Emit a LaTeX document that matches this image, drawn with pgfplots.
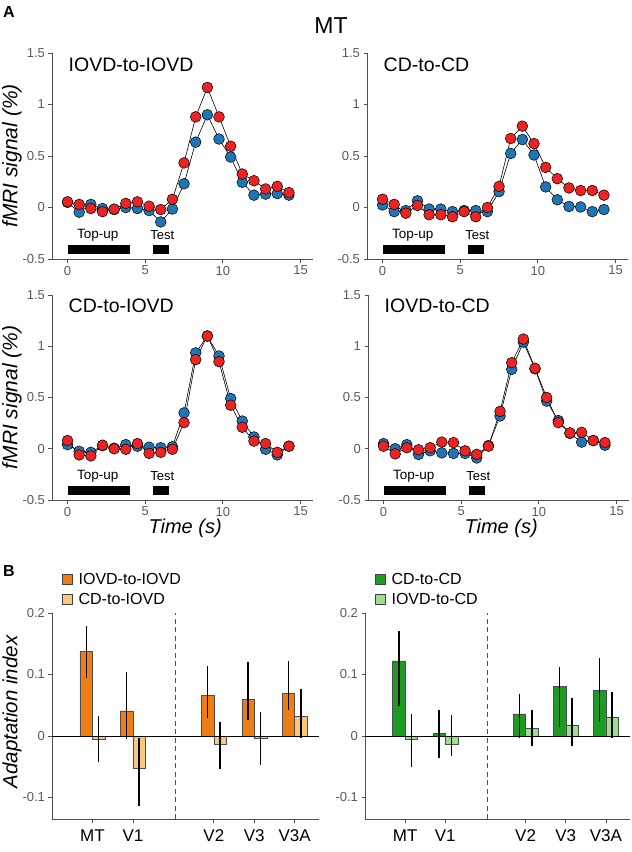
\documentclass[border=0pt]{standalone}
\usepackage{pgfplots}
\pgfplotsset{compat=1.18}
\usepackage{pgfplotstable}
\usepackage{fontspec}
\setmainfont{Liberation Sans}

\definecolor{bl}{RGB}{30,118,180}
\definecolor{rd}{RGB}{235,35,35}
\definecolor{orD}{RGB}{240,125,20}
\definecolor{orL}{RGB}{250,200,125}
\definecolor{grD}{RGB}{30,155,35}
\definecolor{grL}{RGB}{160,220,140}
\definecolor{axg}{RGB}{80,80,80}
\definecolor{tkg}{RGB}{90,90,90}

\pgfplotstableread{
t b r
0 0.05 0.055
0.75 -0.045 0.03
1.5 0.03 -0.01
2.25 -0.01 -0.04
3.0 -0.02 -0.015
3.75 0.0 0.04
4.5 -0.01 0.055
5.25 -0.03 0.013
6.0 -0.14 -0.02
6.75 -0.015 0.08
7.5 0.23 0.433
8.25 0.635 0.88
9.0 0.90 1.166
9.75 0.665 0.88
10.5 0.49 0.595
11.25 0.245 0.325
12.0 0.12 0.26
12.75 0.13 0.18
13.5 0.135 0.205
14.25 0.12 0.145
}\tabTL

\pgfplotstableread{
t b r
0 0.025 0.08
0.75 -0.04 0.03
1.5 -0.03 -0.055
2.25 0.065 0.02
3.0 -0.015 -0.07
3.75 -0.015 -0.07
4.5 -0.04 -0.09
5.25 -0.03 -0.04
6.0 -0.03 -0.09
6.75 -0.04 0.0
7.5 0.155 0.205
8.25 0.525 0.67
9.0 0.66 0.79
9.75 0.51 0.62
10.5 0.2 0.39
11.25 0.075 0.28
12.0 0.01 0.19
12.75 0.005 0.165
13.5 -0.04 0.165
14.25 -0.02 0.12
}\tabTR

\pgfplotstableread{
t b r
0 0.04 0.08
0.75 -0.025 -0.06
1.5 -0.035 -0.07
2.25 0.03 0.035
3.0 0.005 0.0
3.75 0.04 -0.005
4.5 0.025 0.05
5.25 0.015 -0.045
6.0 0.01 -0.035
6.75 0.02 -0.005
7.5 0.35 0.255
8.25 0.935 0.87
9.0 1.10 1.10
9.75 0.905 0.85
10.5 0.49 0.425
11.25 0.27 0.21
12.0 0.115 0.075
12.75 -0.005 0.05
13.5 -0.06 -0.035
14.25 0.025 0.025
}\tabBL

\pgfplotstableread{
t b r
0 0.05 0.025
0.75 0.0 -0.05
1.5 0.04 0.01
2.25 -0.055 -0.01
3.0 -0.02 0.01
3.75 -0.04 0.065
4.5 -0.045 0.06
5.25 -0.045 -0.02
6.0 -0.09 -0.055
6.75 0.03 0.025
7.5 0.32 0.365
8.25 0.775 0.84
9.0 1.04 1.07
9.75 0.78 0.785
10.5 0.465 0.5
11.25 0.275 0.255
12.0 0.15 0.155
12.75 0.065 0.16
13.5 0.08 0.08
14.25 0.035 0.06
}\tabBR

% bar data: x y ep em
\pgfplotstableread{
x y ep em
1 0.137 0.042 0.043
2 0.041 0.063 0.046
4 0.066 0.048 0.037
5 0.060 0.061 0.034
6 0.069 0.053 0.027
}\barOD
\pgfplotstableread{
x y ep em
1 -0.006 0.038 0.037
2 -0.053 0.049 0.061
4 -0.014 0.036 0.040
5 -0.004 0.043 0.043
6 0.032 0.045 0.035
}\barOL
\pgfplotstableread{
x y ep em
1 0.122 0.048 0.073
2 0.004 0.039 0.040
4 0.036 0.032 0.040
5 0.081 0.032 0.067
6 0.074 0.053 0.051
}\barGD
\pgfplotstableread{
x y ep em
1 -0.006 0.041 0.045
2 -0.013 0.047 0.019
4 0.013 0.030 0.029
5 0.018 0.043 0.034
6 0.031 0.040 0.034
}\barGL

\pgfplotsset{
  base/.style={
    scale only axis,
    axis lines*=left,
    axis line style={axg, line width=0.8pt},
    tick style={axg, line width=0.8pt},
    tick align=outside,
    major tick length=3.5pt,
    /pgf/number format/assume math mode=true,
    ticklabel style={font=\fontsize{13}{15}\selectfont, text=tkg},
    clip=false,
  },
  fmri/.style={
    base,
    width=261pt, height=206pt,
    xmin=-1, xmax=15.8, ymin=-0.5, ymax=1.5,
    xtick={0,5,10,15}, ytick={-0.5,0,0.5,1,1.5},
  },
  yl/.style={
    ylabel={\itshape fMRI signal (\%)},
    ylabel style={at={(axis description cs:-0.153,0.5)}, anchor=center, rotate=0, font=\fontsize{21}{23}\selectfont},
  },
  xl/.style={
    xlabel={\itshape Time (s)},
    xlabel style={at={(axis description cs:0.51,-0.14)}, anchor=center, font=\fontsize{20}{22}\selectfont},
  },
  bp/.style={black, line width=0.6pt, mark=*, mark size=5.4pt,
    mark options={draw=black, line width=0.5pt, fill=#1}},
  barax/.style={
    base,
    width=267pt, height=206pt,
    xmin=0, xmax=6.6, ymin=-0.135, ymax=0.2,
    xtick={1,2,4,5,6}, xticklabels={MT,V1,V2,V3,V3A},
    ytick={-0.1,0,0.1,0.2},
    xticklabel style={font=\fontsize{17}{19}\selectfont, text=black, yshift=-4pt},
    ybar=0pt, bar width=12.5pt,
    legend style={draw=none, fill=none, font=\fontsize{16}{18}\selectfont,
      at={(axis description cs:0.037,1.205)}, anchor=north west,
      row sep=3.5pt, inner xsep=0pt, inner ysep=0pt},
    legend cell align=left,
  },
  sqlegend/.style={legend image code/.code={\draw[##1, draw=black!75, line width=0.6pt] (0pt,-5pt) rectangle (10pt,5pt); \path (14pt,0pt);}},
  barst/.style={fill=#1, draw=black!70, line width=0.5pt, sqlegend,
    error bars/.cd, y dir=both, y explicit,
    error bar style={black, line width=1.4pt}, error mark=none},
}

\newcommand{\stimbars}{%
  \addplot[fill=black, draw=none, forget plot] coordinates {(0,-0.365) (4,-0.365) (4,-0.45) (0,-0.45)} -- cycle;
  \addplot[fill=black, draw=none, forget plot] coordinates {(5.5,-0.365) (6.55,-0.365) (6.55,-0.45) (5.5,-0.45)} -- cycle;
  \node[font=\fontsize{13.5}{15}\selectfont] at (axis cs:1.95,-0.27) {Top-up};
  \node[font=\fontsize{13}{15}\selectfont] at (axis cs:6.1,-0.27) {Test};
}

\begin{document}
\begin{tikzpicture}
\useasboundingbox (0,0) rectangle (632pt,-852pt);

\node[font=\bfseries\fontsize{16}{18}\selectfont] at (9pt,-12pt) {A};
\node[font=\bfseries\fontsize{16}{18}\selectfont] at (9pt,-571pt) {B};
\node[font=\fontsize{23}{25}\selectfont] at (331pt,-26pt) {MT};

% top-left
\begin{axis}[fmri, yl, at={(52pt,-259pt)}, anchor=south west]
\stimbars
\addplot[bp=bl] table[x=t,y=b] {\tabTL};
\addplot[bp=rd] table[x=t,y=r] {\tabTL};
\node[anchor=west, font=\fontsize{19.5}{21}\selectfont] at (axis cs:-0.15,1.385) {IOVD-to-IOVD};
\end{axis}

% top-right
\begin{axis}[fmri, at={(367pt,-259pt)}, anchor=south west]
\stimbars
\addplot[bp=bl] table[x=t,y=b] {\tabTR};
\addplot[bp=rd] table[x=t,y=r] {\tabTR};
\node[anchor=west, font=\fontsize{19.5}{21}\selectfont] at (axis cs:-0.15,1.385) {CD-to-CD};
\end{axis}

% bottom-left
\begin{axis}[fmri, yl, xl, height=205pt, at={(52pt,-500pt)}, anchor=south west]
\stimbars
\addplot[bp=bl] table[x=t,y=b] {\tabBL};
\addplot[bp=rd] table[x=t,y=r] {\tabBL};
\node[anchor=west, font=\fontsize{19.5}{21}\selectfont] at (axis cs:-0.15,1.39) {CD-to-IOVD};
\end{axis}

% bottom-right
\begin{axis}[fmri, xl, height=205pt, at={(368pt,-500pt)}, anchor=south west]
\stimbars
\addplot[bp=bl] table[x=t,y=b] {\tabBR};
\addplot[bp=rd] table[x=t,y=r] {\tabBR};
\node[anchor=west, font=\fontsize{19.5}{21}\selectfont] at (axis cs:-0.15,1.39) {IOVD-to-CD};
\end{axis}

% bars left
\begin{axis}[barax, at={(52pt,-819pt)}, anchor=south west,
  ylabel={\itshape Adaptation index},
  ylabel style={at={(axis description cs:-0.15,0.52)}, anchor=center, font=\fontsize{20.5}{22}\selectfont}]
\addplot[barst=orD] table[x=x,y=y,y error plus=ep,y error minus=em] {\barOD};
\addplot[barst=orL] table[x=x,y=y,y error plus=ep,y error minus=em] {\barOL};
\addplot[sharp plot, black, line width=0.6pt, forget plot] coordinates {(0,0) (6.6,0)};
\addplot[sharp plot, axg, dashed, dash pattern=on 5pt off 3.5pt, line width=0.8pt, forget plot] coordinates {(3.05,-0.135) (3.05,0.2)};
\legend{IOVD-to-IOVD, CD-to-IOVD}
\end{axis}

% bars right
\begin{axis}[barax, width=265pt, at={(365pt,-819pt)}, anchor=south west]
\addplot[barst=grD] table[x=x,y=y,y error plus=ep,y error minus=em] {\barGD};
\addplot[barst=grL] table[x=x,y=y,y error plus=ep,y error minus=em] {\barGL};
\addplot[sharp plot, black, line width=0.6pt, forget plot] coordinates {(0,0) (6.6,0)};
\addplot[sharp plot, axg, dashed, dash pattern=on 5pt off 3.5pt, line width=0.8pt, forget plot] coordinates {(3.05,-0.135) (3.05,0.2)};
\legend{CD-to-CD, IOVD-to-CD}
\end{axis}

\end{tikzpicture}
\end{document}
